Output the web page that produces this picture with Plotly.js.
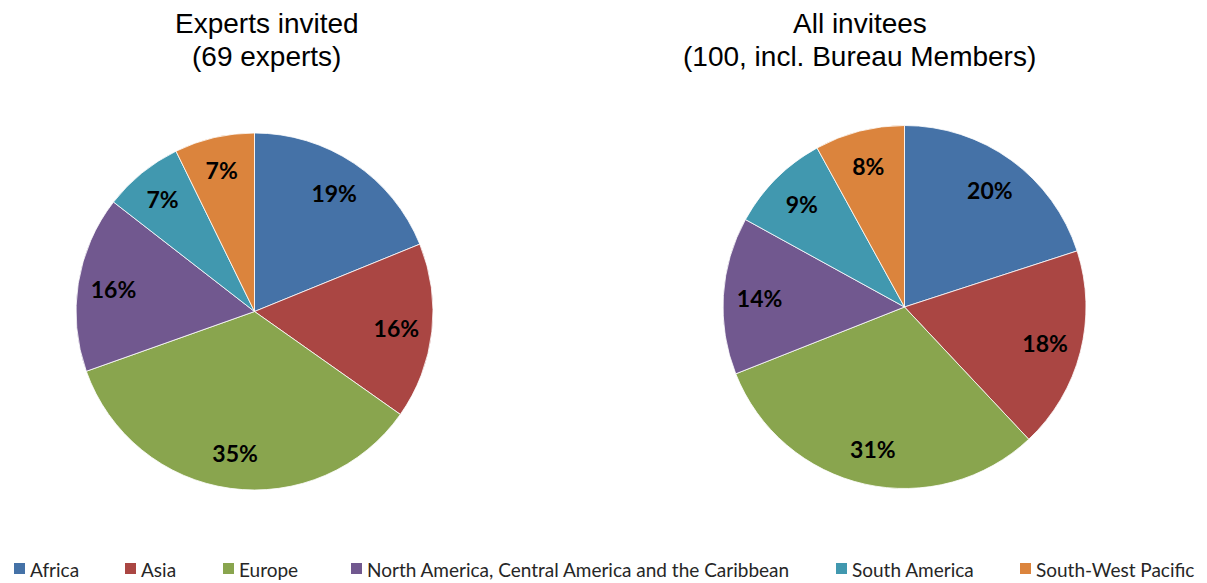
<!DOCTYPE html>
<html>
<head>
<meta charset="utf-8">
<script src="https://cdn.plot.ly/plotly-3.0.1.min.js"></script>
<style>html,body{margin:0;padding:0;background:#fff;}#chart{width:1207px;height:583px;}</style>
</head>
<body>
<div id="chart"></div>
<script>
const regions = ["Africa", "Asia", "Europe", "North America, Central America and the Caribbean", "South America", "South-West Pacific"];
const expertsInvited = [13, 11, 24, 11, 5, 5];
const allInvitees = [20, 18, 31, 14, 9, 8];
const colors = ["#4572A7", "#AA4643", "#89A54E", "#71588F", "#4198AF", "#DB843D"];
const titleLeft = ["Experts invited", "(69 experts)"];
const titleRight = ["All invitees", "(100, incl. Bureau Members)"];

const W = 1207, H = 583;
const domLeft = {x: [76 / W, 433 / W], y: [(H - 490) / H, (H - 133) / H]};
const domRight = {x: [723 / W, 1086 / W], y: [(H - 489) / H, (H - 125) / H]};

function slices(values, domain) {
  return {
    type: "pie", labels: regions, values: values, domain: domain,
    sort: false, direction: "clockwise", rotation: 0,
    marker: {colors: colors, line: {color: "#ffffff", width: 0.8}},
    textinfo: "none", showlegend: false, hoverinfo: "label+value+percent"
  };
}
function labelsRing(values, domain) {
  return {
    type: "pie", labels: regions, values: values, domain: domain,
    sort: false, direction: "clockwise", rotation: 0, hole: 0.6,
    marker: {colors: regions.map(() => "rgba(0,0,0,0)"), line: {width: 0}},
    texttemplate: "%{percent:.0%}", textposition: "inside",
    insidetextorientation: "horizontal",
    textfont: {family: "Lato, 'Open Sans', sans-serif", size: 23, color: "#000000", weight: 700},
    showlegend: false, hoverinfo: "skip"
  };
}

// custom legend (layout positions, in pixels)
const legendX = [14, 125, 223, 351, 836, 1020];
const legendFont = {family: "Lato, 'Open Sans', sans-serif", size: 19, color: "#262626"};
const shapes = [], annotations = [];
regions.forEach((r, i) => {
  shapes.push({type: "rect", xref: "paper", yref: "paper",
    x0: legendX[i] / W, x1: (legendX[i] + 11) / W, y0: (H - 574) / H, y1: (H - 563) / H,
    fillcolor: colors[i], line: {width: 0}});
  annotations.push({text: r, xref: "paper", yref: "paper", x: (legendX[i] + 14) / W, y: (H - 569) / H,
    xanchor: "left", yanchor: "middle", showarrow: false, font: legendFont});
});
const titleFont = {family: "Arial, 'Liberation Sans', sans-serif", size: 28, color: "#000"};
[[titleLeft, 266.5], [titleRight, 859.5]].forEach(([lines, cx]) => {
  annotations.push({text: lines[0], xref: "paper", yref: "paper", x: cx / W, y: (H - 23) / H,
    xanchor: "center", yanchor: "middle", showarrow: false, font: titleFont});
  annotations.push({text: lines[1], xref: "paper", yref: "paper", x: cx / W, y: (H - 56) / H,
    xanchor: "center", yanchor: "middle", showarrow: false, font: titleFont});
});

const layout = {
  width: W, height: H,
  margin: {l: 0, r: 0, t: 0, b: 0},
  paper_bgcolor: "#ffffff",
  showlegend: false,
  shapes: shapes,
  annotations: annotations
};
Plotly.newPlot("chart", [
  slices(expertsInvited, domLeft), slices(allInvitees, domRight),
  labelsRing(expertsInvited, domLeft), labelsRing(allInvitees, domRight)
], layout, {displayModeBar: false, staticPlot: true});
</script>
</body>
</html>
